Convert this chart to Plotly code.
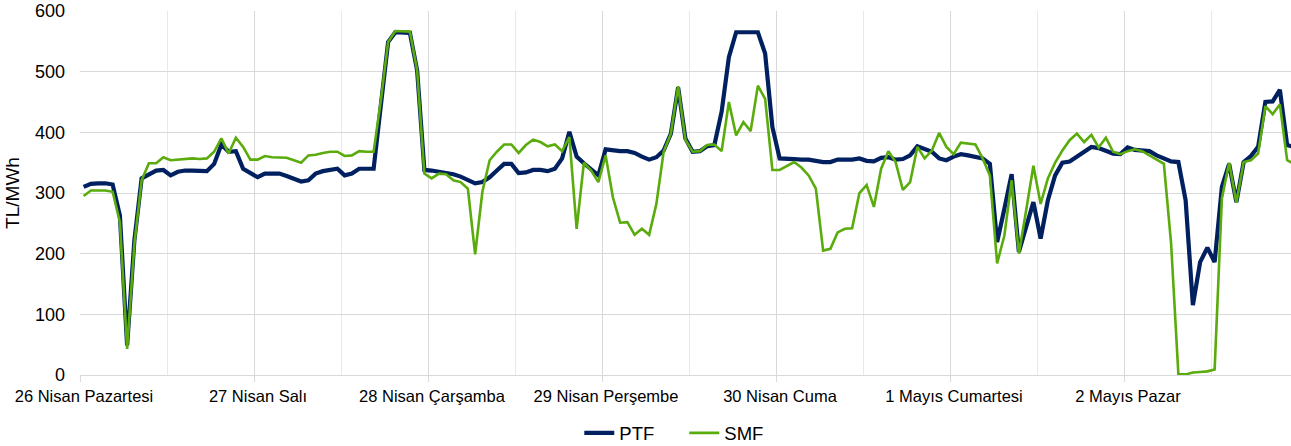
import plotly.graph_objects as go

day_labels = ["26 Nisan Pazartesi", "27 Nisan Salı", "28 Nisan Çarşamba", "29 Nisan Perşembe",
              "30 Nisan Cuma", "1 Mayıs Cumartesi", "2 Mayıs Pazar"]

ptf_26 = [310,315,316,316,314,263,49,222,324,331,337,338,329,335,337,337,336,336,348,380,368,369,340,332]
ptf_27 = [326,332,332,332,328,324,319,321,332,336,338,340,329,332,340,340,340,445,549,565,565,564,502,338]
ptf_28 = [337,335,332,331,327,321,316,318,326,337,348,348,333,334,338,338,336,340,357,401,360,349,340,329]
ptf_29 = [372,370,369,369,366,360,355,359,370,398,474,390,368,369,377,379,434,524,565,565,565,565,530,409]
ptf_30 = [357,357,356,355,355,353,351,351,355,355,355,357,353,352,358,359,355,356,362,377,372,368,357,354]
ptf_01 = [360,364,362,360,357,348,219,274,331,203,244,285,225,288,329,350,352,360,370,376,374,370,365,364]
ptf_02 = [375,371,370,369,362,357,352,351,288,115,186,210,186,310,348,285,351,361,376,450,451,470,379,376]

smf_26 = [295,304,304,304,302,252,43,216,321,349,349,359,354,355,357,357,356,357,368,390,365,391,376,355]
smf_27 = [355,361,359,358,358,354,350,362,363,366,368,368,361,362,369,368,368,453,549,567,567,566,502,332]
smf_28 = [324,332,331,321,318,307,199,302,354,368,380,380,366,379,388,384,377,380,369,392,241,350,337,318]
smf_29 = [362,293,251,252,231,241,231,282,368,398,476,388,368,369,379,380,369,450,395,417,402,477,455,338]
smf_30 = [338,345,351,342,329,307,205,208,235,241,242,300,313,277,340,369,351,305,318,376,357,370,399,376]
smf_01 = [364,383,381,380,357,329,184,230,321,200,271,345,282,324,350,370,387,398,384,396,375,391,368,364]
smf_02 = [369,372,369,362,355,348,216,1,1,4,5,6,9,291,350,284,351,354,365,443,430,446,354,348]

ptf = ptf_26 + ptf_27 + ptf_28 + ptf_29 + ptf_30 + ptf_01 + ptf_02
smf = smf_26 + smf_27 + smf_28 + smf_29 + smf_30 + smf_01 + smf_02
hours = list(range(len(ptf)))

FONT = "Liberation Sans, Arial, sans-serif"
GRID = "#d9d9d9"

fig = go.Figure()
fig.add_trace(go.Scatter(x=hours, y=ptf, mode="lines", name="PTF",
                         line=dict(color="#002060", width=4.2)))
fig.add_trace(go.Scatter(x=hours, y=smf, mode="lines", name="SMF",
                         line=dict(color="#5aab0c", width=2.6)))

day_bounds = [24 * i - 0.5 for i in range(len(day_labels))]

fig.update_layout(
    width=1291, height=446,
    margin=dict(l=80, r=0, t=11, b=71, autoexpand=False),
    paper_bgcolor="white", plot_bgcolor="white",
    font=dict(family=FONT, color="#000000"),
    showlegend=True,
    legend=dict(orientation="h", x=0.499, xanchor="center", y=-0.108, yanchor="top",
                font=dict(size=18.5, family=FONT), entrywidth=60, tracegroupgap=0),
    xaxis=dict(
        automargin=False,
        range=[-0.5, -0.5 + 1211 / 7.25],
        tickmode="array", tickvals=day_bounds, ticktext=day_labels,
        ticklabelshift=4,
        ticks="outside", ticklen=6, tickcolor=GRID, tickwidth=1,
        showgrid=True, gridcolor=GRID, gridwidth=1,
        minor=dict(tick0=-0.5, dtick=12, showgrid=True, gridcolor="#e9e9e9", gridwidth=1, ticks=""),
        showline=True, linecolor=GRID, linewidth=1,
        zeroline=False,
        tickfont=dict(size=16.5, family=FONT, color="#000000"),
    ),
    yaxis=dict(
        automargin=False,
        range=[0, 600], tickmode="array", tickvals=[0, 100, 200, 300, 400, 500, 600],
        showgrid=True, gridcolor=GRID, gridwidth=1,
        zeroline=False, showline=False,
        ticks="", ticklabelstandoff=14,
        tickfont=dict(size=18, family=FONT, color="#000000"),
        title=dict(text="TL/MWh", font=dict(size=19, family=FONT, color="#000000"), standoff=10),
    ),
)

fig.write_html("out.html", config={"displayModeBar": False},
               post_script="document.body.style.margin='0';document.body.style.overflow='hidden';")
